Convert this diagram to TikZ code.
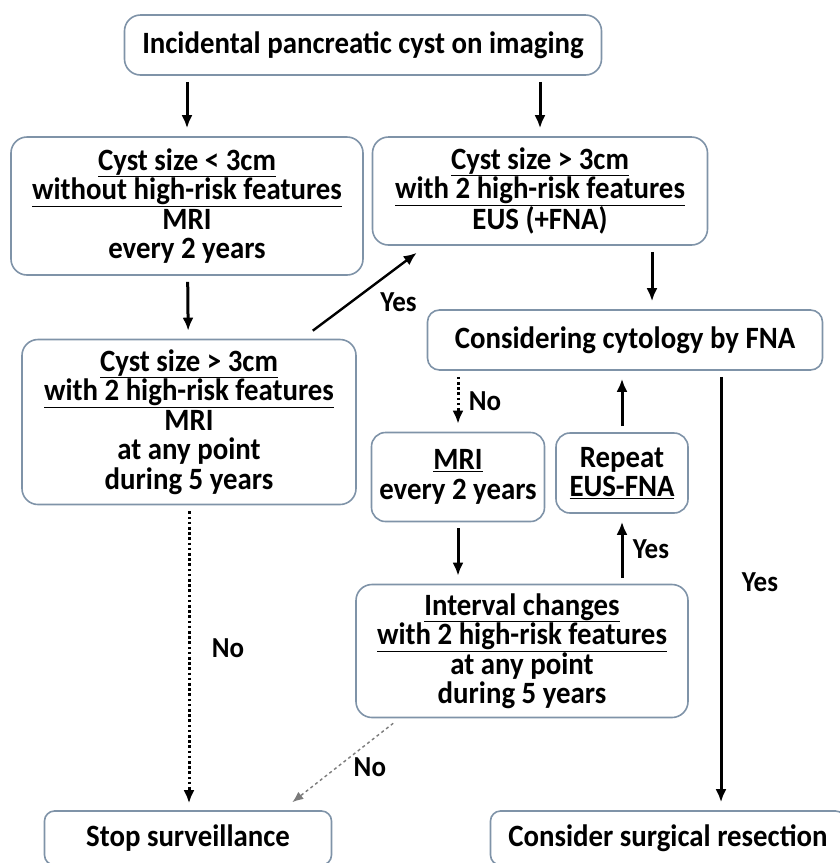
\documentclass[tikz,border=0pt]{standalone}
\usepackage{fontspec}
\setmainfont{Carlito}[FakeStretch=0.93]
\usepackage{tikz}
\usetikzlibrary{positioning, calc, arrows.meta}
\usepackage{xcolor}
\definecolor{boxline}{HTML}{7F93A8}
\definecolor{noline}{HTML}{7A7A7A}

\begin{document}
\begin{tikzpicture}[x=1pt, y=-1pt,
    font=\fontsize{31}{29.5}\selectfont\bfseries,
    stepbox/.style={draw=boxline, line width=1.6pt, rounded corners=16pt,
                    align=center, inner sep=0pt},
    flow/.style={-{Latex[length=13pt, width=11pt]}, line width=3pt,
                 shorten <=6pt, shorten >=8pt},
    dots/.style={dash pattern=on 2.6pt off 2.6pt},
    lbl/.style={font=\fontsize{29}{29}\selectfont\bfseries}]
    \useasboundingbox (0,0) rectangle (840,863);
    % Add the boxes
        \node[stepbox,
              minimum width=477pt,
              minimum height=60pt] (start) at (363,45)
              {Incidental pancreatic cyst on imaging};
        \node[stepbox,
              minimum width=352pt,
              minimum height=138pt] (small) at (187,206)
              {\underline{Cyst size < 3cm}\\ \underline{without high-risk features}\\ MRI\\ every 2 years};
        \node[stepbox,
              minimum width=335pt,
              minimum height=108pt] (large) at (540,191)
              {\underline{Cyst size > 3cm}\\ \underline{with 2 high-risk features}\\ EUS (+FNA)};
        \node[stepbox,
              rounded corners=12pt,
              minimum width=395pt,
              minimum height=60pt] (cyto) at (625,340)
              {Considering cytology by FNA};
        \node[stepbox,
              minimum width=334pt,
              minimum height=165pt] (grow) at (189,422)
              {\underline{Cyst size > 3cm}\\ \underline{with 2 high-risk features}\\ MRI\\ at any point\\ during 5 years};
        \node[stepbox,
              rounded corners=14pt,
              minimum width=173pt,
              minimum height=89pt] (mri) at (458,477)
              {\underline{MRI}\\ every 2 years};
        \node[stepbox,
              rounded corners=14pt,
              minimum width=132pt,
              minimum height=80pt] (repeat) at (622,473)
              {Repeat\\ \underline{EUS-FNA}};
        \node[stepbox,
              minimum width=332pt,
              minimum height=133pt] (change) at (522,651)
              {\underline{Interval changes}\\ \underline{with 2 high-risk features}\\ at any point\\ during 5 years};
        \node[stepbox,
              rounded corners=10pt,
              minimum width=287pt,
              minimum height=54pt] (stop) at (188,838)
              {Stop surveillance};
        \node[stepbox,
              rounded corners=10pt,
              minimum width=355pt,
              minimum height=54pt] (surgery) at (668,838)
              {Consider surgical resection};

 \path[every edge/.append style={flow}]
        	(start.south -| small.north) edge (small.north)
        	(start.south -| large.north) edge (large.north)
        	(small) edge (grow)
        	([xshift=112pt]large.south) edge ([xshift=27pt]cyto.north)
        	(repeat.north) edge (repeat.north |- cyto.south)
        	(mri) edge (mri.south |- change.north)
        	(change.north -| repeat.south) edge node[lbl, right=6pt] {Yes} (repeat.south)
        	([xshift=96pt]cyto.south) edge node[lbl, pos=0.48, right=16pt] {Yes} ([xshift=53pt]surgery.north)
        	([xshift=-44pt, yshift=8pt]grow.north east) edge[line width=2.4pt, shorten <=0pt, shorten >=0pt]
        	    node[lbl, pos=0.55, below right=0pt and 6pt] {Yes}
        	    ([xshift=45pt, yshift=-7pt]large.south west)
            ;
 \draw[flow, dots] (cyto.south -| mri.north) -- node[lbl, right=6pt] {No} (mri.north);
 \draw[flow, dots, shorten >=7pt] (grow.south) -- node[lbl, pos=0.47, right=18pt] {No} (grow.south |- stop.north);
 \draw[-{Latex[length=11pt, width=9pt]}, noline, dashed, line width=1.4pt]
        	([xshift=38pt, yshift=-5pt]change.south west) --
        	    node[lbl, black, right=12pt, pos=0.55] {No}
        	    ([xshift=-40pt, yshift=8pt]stop.north east);
    \end{tikzpicture}
\end{document}
